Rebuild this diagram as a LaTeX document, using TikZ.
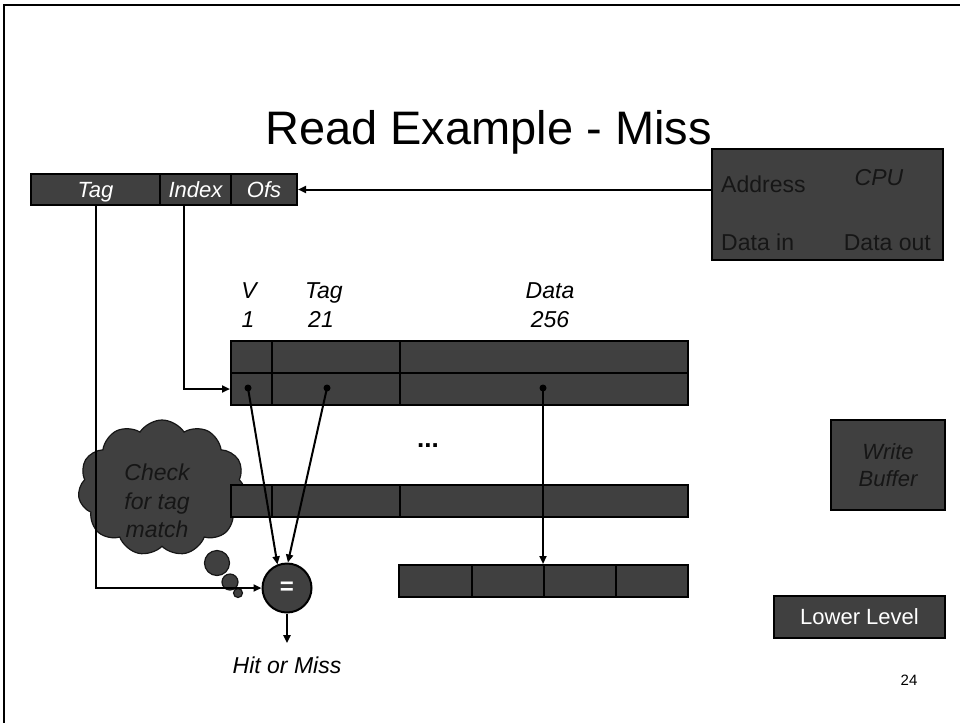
\documentclass[tikz,border=0pt]{standalone}
\usepackage{fontspec}
\setmainfont{Liberation Sans}
\usetikzlibrary{arrows.meta,shapes.symbols}
\definecolor{boxgray}{RGB}{64,64,64}
\definecolor{inkdark}{RGB}{22,22,22}

\begin{document}
\begin{tikzpicture}[x=1pt,y=-1pt,
  cell/.style={draw=black,fill=boxgray,line width=2pt,inner sep=0pt,anchor=north west},
  field/.style={cell,text=white,font=\itshape\fontsize{22}{26}\selectfont,text height=15.8pt,text depth=0pt},
  lbl/.style={font=\fontsize{23}{27}\selectfont,inner sep=0pt},
  ilbl/.style={font=\itshape\fontsize{23}{27}\selectfont,inner sep=0pt},
  arr/.style={line width=2pt,-{Triangle[length=8pt,width=7pt]}},
  dotm/.style={circle,fill=black,inner sep=0pt,minimum size=7pt},
  bubble/.style={circle,draw=inkdark,fill=boxgray,line width=1.2pt,inner sep=0pt}]

\useasboundingbox (0,0) rectangle (960,723);

% slide frame
\draw[line width=2pt] (960,5) -- (4,5) -- (4,723);

% title
\node[font=\fontsize{47}{54}\selectfont,inner sep=0pt,anchor=base east] (title) at (712,144) {Read Example - Miss};

% thought cloud (drawn first, everything else lies over it)
\node[cloud,draw=inkdark,fill=boxgray,line width=1.2pt,cloud puffs=11,cloud puff arc=115,
      aspect=1.24,minimum width=168pt,minimum height=136pt,inner sep=0pt] (cloud) at (162,488) {};
\node[ilbl,text=inkdark,align=center,font=\itshape\fontsize{23}{28.5}\selectfont] (cloudtxt) at (157,501) {Check\\for tag\\match};
\node[bubble,minimum size=25pt] (b1) at (217,563) {};
\node[bubble,minimum size=16pt] (b2) at (230,582) {};
\node[bubble,minimum size=9pt] (b3) at (238,593) {};

% address fields
\node[field,minimum width=129pt,minimum height=31pt] (tagf) at (30,173) {Tag};
\node[field,minimum width=71pt,minimum height=31pt] (idxf) at (159,173) {Index};
\node[field,minimum width=66pt,minimum height=31pt] (ofsf) at (230,173) {Ofs};

% CPU
\node[cell,minimum width=231pt,minimum height=111pt] (cpu) at (711,148) {};
\node[lbl,text=inkdark,anchor=base west] (addr) at (721,192) {Address};
\node[ilbl,text=inkdark,anchor=base] (cpulbl) at (879,185) {CPU};
\node[lbl,text=inkdark,anchor=base west] (din) at (721,250) {Data in};
\node[lbl,text=inkdark,anchor=base east] (dout) at (931,250) {Data out};

% column headings
\node[ilbl,anchor=base] (hv) at (249,298) {V};
\node[ilbl,anchor=base] (hv1) at (248,327) {1};
\node[ilbl,anchor=base] (ht) at (324,298) {Tag};
\node[ilbl,anchor=base] (ht1) at (321,327) {21};
\node[ilbl,anchor=base] (hd) at (550,298) {Data};
\node[ilbl,anchor=base] (hd1) at (550,327) {256};

% cache rows
\node[cell,minimum width=41pt,minimum height=32pt] (v1) at (230,340) {};
\node[cell,minimum width=128pt,minimum height=32pt] (t1) at (271,340) {};
\node[cell,minimum width=288pt,minimum height=32pt] (d1) at (399,340) {};
\node[cell,minimum width=41pt,minimum height=32pt] (v2) at (230,372) {};
\node[cell,minimum width=128pt,minimum height=32pt] (t2) at (271,372) {};
\node[cell,minimum width=288pt,minimum height=32pt] (d2) at (399,372) {};
\node[font=\bfseries\fontsize{26}{30}\selectfont,inner sep=0pt,anchor=base] (dots) at (428,447) {...};
\node[cell,minimum width=41pt,minimum height=32pt] (vn) at (230,484) {};
\node[cell,minimum width=128pt,minimum height=32pt] (tn) at (271,484) {};
\node[cell,minimum width=288pt,minimum height=32pt] (dn) at (399,484) {};

% selected word block
\node[cell,minimum width=73pt,minimum height=32pt] (blk1) at (398,564) {};
\node[cell,minimum width=72pt,minimum height=32pt] (blk2) at (471,564) {};
\node[cell,minimum width=72pt,minimum height=32pt] (blk3) at (543,564) {};
\node[cell,minimum width=72pt,minimum height=32pt] (blk4) at (615,564) {};

% comparator
\node[circle,draw=black,fill=boxgray,line width=2pt,minimum size=49pt,inner sep=0pt,
      text=white,font=\bfseries\fontsize{24}{28}\selectfont] (eq) at (287,588) {=};
\node[ilbl,anchor=base] (hit) at (287,673) {Hit or Miss};

% write buffer and lower level
\node[cell,minimum width=114pt,minimum height=90pt,align=center,text=inkdark,
      font=\itshape\fontsize{22}{27}\selectfont] (wb) at (830,419) {Write\\Buffer};
\node[cell,minimum width=171pt,minimum height=42pt,text=white,text height=15.8pt,text depth=0pt,
      font=\fontsize{22}{26}\selectfont] (ll) at (773,595) {Lower Level};

\node[font=\fontsize{15}{18}\selectfont,inner sep=0pt] (pg) at (909,680) {24};

% probe points in the indexed row
\node[dotm] (dv) at (248,388) {};
\node[dotm] (dt) at (327,388) {};
\node[dotm] (dd) at (543,388) {};

% connectors
\draw[arr] (cpu.west |- ofsf.east) -- (ofsf.east);
\draw[arr] (tagf.south) |- (eq.west);
\draw[arr] ([xshift=-11.5pt]idxf.south) |- (v2.west);
\draw[arr] (dv.center) -- (eq.112);
\draw[arr] (dt.center) -- (eq.88);
\draw[arr] (dd.center) -- (blk3.north west);
\draw[arr,shorten >=13pt] (eq.south) -- (hit.north);
\end{tikzpicture}
\end{document}
